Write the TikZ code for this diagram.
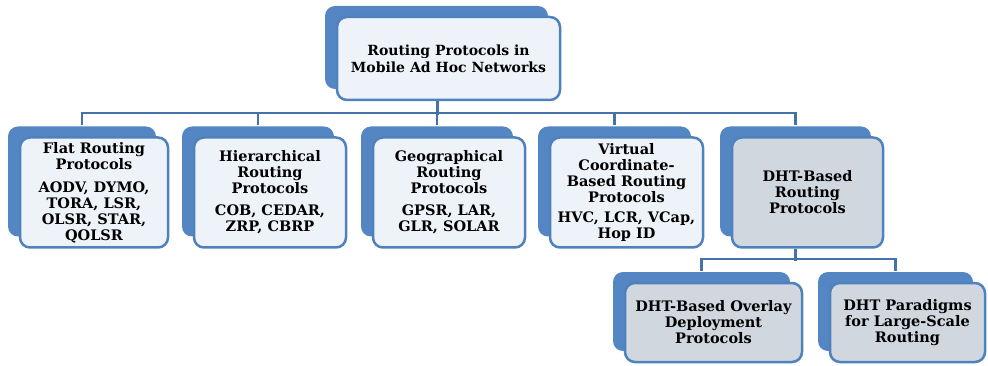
\documentclass[tikz,border=0pt]{standalone}
\usepackage{fontspec}
\setmainfont{DejaVu Serif}
\usetikzlibrary{shadows,calc}
\definecolor{boxblue}{RGB}{79,129,189}
\definecolor{backblue}{RGB}{84,134,196}
\definecolor{frontfill}{RGB}{238,243,249}
\definecolor{grayfill}{RGB}{208,215,223}
\definecolor{linkblue}{RGB}{70,114,170}
\tikzset{
  layer/.style={draw=boxblue, line width=2.5pt, rounded corners=10pt, fill=frontfill,
    align=center, font=\bfseries\fontsize{14.5}{16}\selectfont, inner sep=1pt,
    general shadow={fill=backblue, shadow xshift=-12pt, shadow yshift=11pt}},
  graylayer/.style={layer, fill=grayfill},
  link/.style={draw=linkblue, line width=2.5pt},
}
\begin{document}
\begin{tikzpicture}[x=1pt,y=-1pt]
\useasboundingbox (0,0) rectangle (988,366);
\node[layer, minimum width=223pt, minimum height=83pt, font=\bfseries\fontsize{14}{17}\selectfont] (root) at (448.5,58.5) {Routing Protocols in\\Mobile Ad Hoc Networks};
\node[layer, minimum width=148pt, minimum height=110pt] (n1) at (94,192.5) {Flat Routing\\Protocols\\[7pt]AODV, DYMO,\\TORA, LSR,\\OLSR, STAR,\\QOLSR};
\node[layer, minimum width=152pt, minimum height=110pt] (n2) at (270,192.5) {Hierarchical\\Routing\\Protocols\\[6pt]COB, CEDAR,\\ZRP, CBRP};
\node[layer, minimum width=152pt, minimum height=110pt] (n3) at (449,192.5) {Geographical\\Routing\\Protocols\\[6pt]GPSR, LAR,\\GLR, SOLAR};
\node[layer, minimum width=153pt, minimum height=110pt] (n4) at (626.5,192.5) {Virtual\\Coordinate-\\Based Routing\\Protocols\\[4pt]HVC, LCR, VCap,\\Hop ID};
\node[graylayer, minimum width=151pt, minimum height=110pt] (n5) at (807.5,192.5) {DHT-Based\\Routing\\Protocols};
\node[graylayer, minimum width=177pt, minimum height=79pt] (n6) at (713.5,322.5) {DHT-Based Overlay\\Deployment\\Protocols};
\node[graylayer, minimum width=155pt, minimum height=79pt] (n7) at (907.5,322.5) {DHT Paradigms\\for Large-Scale\\Routing};
% level 1 -> 2
\draw[link] ($(root.south)+(-11,0)$) -- ($(root.south)+(-11,14)$);
\draw[link] ($(n1.north)+(-12,-11)$) -- ++(0,-12) -| ($(n5.north)+(-12,-11)$);
\foreach \n in {n2,n3,n4}{
  \draw[link] ($(\n.north)+(-12,-11)$) -- ($(\n.north)+(-12,-24)$);
}
% level 2 -> 3
\draw[link] ($(n5.south)+(-12,0)$) -- ($(n5.south)+(-12,12)$);
\draw[link] ($(n6.north)+(-12,-11)$) -- ++(0,-12) -| ($(n7.north)+(-12,-11)$);
\end{tikzpicture}
\end{document}
